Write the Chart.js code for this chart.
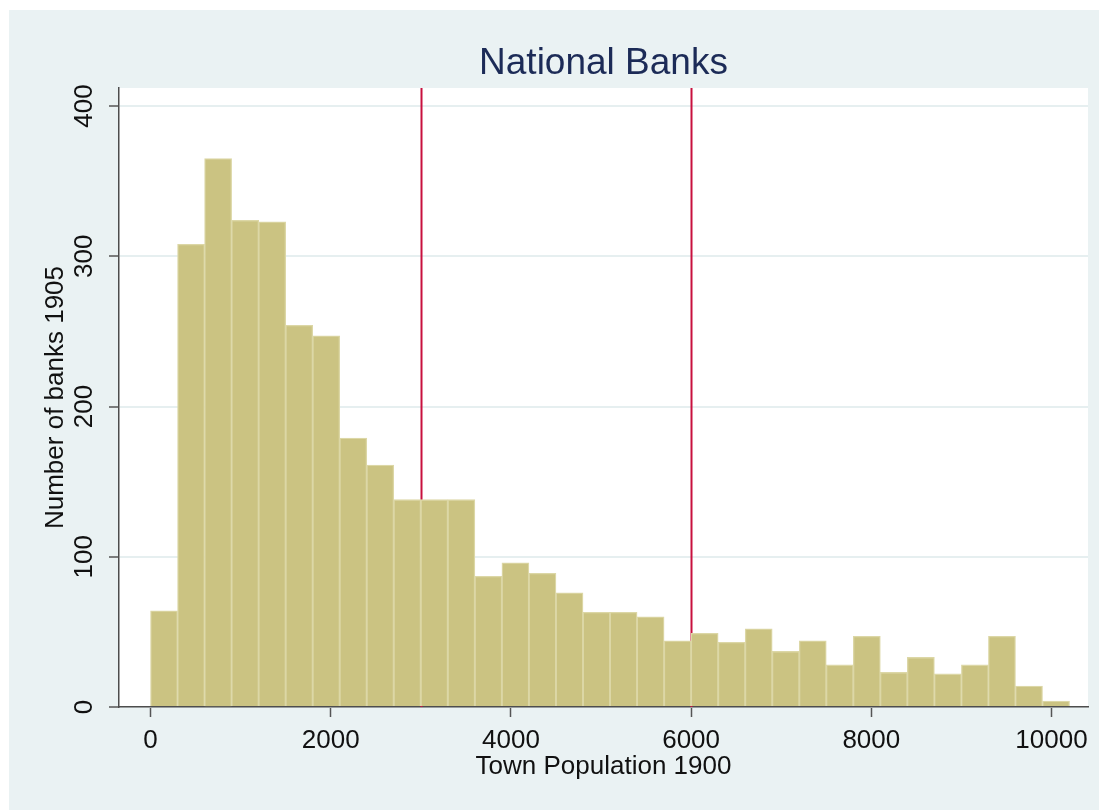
<!DOCTYPE html>
<html>
<head>
<meta charset="utf-8">
<title>National Banks</title>
<script src="https://cdn.jsdelivr.net/npm/chart.js@4/dist/chart.umd.min.js"></script>
<style>
  html, body { margin: 0; padding: 0; background: #ffffff; }
  #wrap { width: 1099px; height: 811px; }
  canvas { display: block; }
</style>
</head>
<body>
<div id="wrap"><canvas id="histogram" width="1099" height="811"></canvas></div>
<script>
// Histogram bins: midpoint of each 300-person population bin
const binMidpoints = [150, 450, 750, 1050, 1350, 1650, 1950, 2250, 2550, 2850,
                      3150, 3450, 3750, 4050, 4350, 4650, 4950, 5250, 5550, 5850,
                      6150, 6450, 6750, 7050, 7350, 7650, 7950, 8250, 8550, 8850,
                      9150, 9450, 9750, 10050];
// Number of national banks in 1905 falling in each bin
const bankCounts = [64, 308, 365, 324, 323, 254, 247, 179, 161, 138,
                    138, 138, 87, 96, 89, 76, 63, 63, 60, 44,
                    49, 43, 52, 37, 44, 28, 47, 23, 33, 22,
                    28, 47, 14, 4];
const xTickValues = [0, 2000, 4000, 6000, 8000, 10000];
const yTickValues = [0, 100, 200, 300, 400];
// Population thresholds marked with vertical lines
const cutoffLines = [3000, 6000];

const FONT = "'Liberation Sans', Arial, Helvetica, sans-serif";

// Panel background, white plot region and threshold lines
const backdrop = {
  id: 'backdrop',
  beforeDraw(chart) {
    const { ctx, chartArea: a } = chart;
    ctx.save();
    ctx.fillStyle = '#ffffff';
    ctx.fillRect(0, 0, chart.width, chart.height);
    ctx.fillStyle = '#eaf2f3';
    ctx.fillRect(9, 10, chart.width - 9, chart.height - 11);
    ctx.fillStyle = '#ffffff';
    ctx.fillRect(a.left, a.top, a.right - a.left, a.bottom - a.top);
    ctx.restore();
  },
  beforeDatasetsDraw(chart) {
    const { ctx, chartArea: a } = chart;
    const xs = chart.scales.x;
    ctx.save();
    ctx.strokeStyle = '#c8103e';
    ctx.lineWidth = 2;
    cutoffLines.forEach(v => {
      const px = Math.round(xs.getPixelForValue(v)) + 0.5;
      ctx.beginPath();
      ctx.moveTo(px, a.top);
      ctx.lineTo(px, a.bottom);
      ctx.stroke();
    });
    ctx.restore();
  }
};

new Chart(document.getElementById('histogram'), {
  type: 'bar',
  data: {
    datasets: [{
      xAxisID: 'x',
      yAxisID: 'y',
      data: binMidpoints.map((x, i) => ({ x: x, y: bankCounts[i] })),
      backgroundColor: '#cbc382',
      borderColor: '#dcd7a6',
      borderWidth: 1.3,
      barPercentage: 1,
      categoryPercentage: 1
    }]
  },
  options: {
    responsive: false,
    animation: false,
    events: [],
    layout: { padding: { left: 0, right: 11, top: 0, bottom: 0 } },
    plugins: {
      legend: { display: false },
      tooltip: { enabled: false },
      title: { display: false }
    },
    scales: {
      x: {
        type: 'linear',
        position: 'bottom',
        offset: false,
        min: -350,
        max: 10405,
        afterBuildTicks(scale) { scale.ticks = xTickValues.map(v => ({ value: v })); },
        ticks: {
          color: '#111111',
          font: { family: FONT, size: 26 },
          padding: 8,
          maxRotation: 0,
          minRotation: 0,
          callback: v => String(v)
        },
        grid: {
          offset: false,
          drawOnChartArea: false,
          tickLength: 10,
          tickColor: '#555555',
          tickWidth: 1.5
        },
        border: { display: true, color: '#4d4d4d', width: 1.5 },
        title: {
          display: true,
          text: 'Town Population 1900',
          color: '#111111',
          font: { family: FONT, size: 26, lineHeight: 1.2 },
          padding: { top: 0, bottom: 29 }
        },
        afterFit(scale) { scale.height = 104; }
      },
      y: {
        type: 'linear',
        position: 'left',
        min: 0,
        max: 412,
        afterBuildTicks(scale) { scale.ticks = yTickValues.map(v => ({ value: v })); },
        ticks: {
          color: '#111111',
          font: { family: FONT, size: 26 },
          padding: 2,
          minRotation: 90,
          maxRotation: 90,
          crossAlign: 'center',
          callback: v => String(v)
        },
        grid: {
          color: '#e6eff0',
          lineWidth: 2,
          tickLength: 10,
          tickColor: '#555555',
          tickWidth: 1.5
        },
        border: { display: true, color: '#4d4d4d', width: 1.5 },
        title: {
          display: true,
          text: 'Number of banks 1905',
          color: '#111111',
          font: { family: FONT, size: 26, lineHeight: 1.2 },
          padding: { top: 40, bottom: 0 }
        },
        afterFit(scale) { scale.width = 119; }
      },
      // Top axis carries only the chart heading, centred over the plot region
      xTop: {
        type: 'linear',
        position: 'top',
        ticks: { display: false },
        grid: { display: false },
        border: { display: false },
        title: {
          display: true,
          text: 'National Banks',
          color: '#1c2b57',
          font: { family: FONT, size: 37, lineHeight: 1.2 },
          padding: { top: 42, bottom: 0 }
        },
        afterFit(scale) { scale.height = 88; }
      }
    }
  },
  plugins: [backdrop]
});
</script>
</body>
</html>
